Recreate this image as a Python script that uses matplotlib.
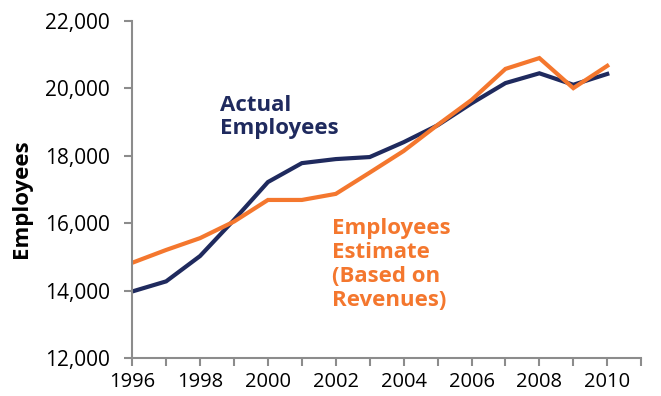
import matplotlib.pyplot as plt
from matplotlib.ticker import FuncFormatter, MultipleLocator

years = list(range(1996, 2011))
actual = [13980, 14280, 15030, 16100, 17220, 17780, 17900, 17960, 18400,
          18900, 19550, 20150, 20440, 20100, 20420]
estimate = [14830, 15210, 15560, 16050, 16690, 16690, 16870, 17500, 18140,
            18910, 19650, 20570, 20890, 20000, 20660]

NAVY = '#1f2a5e'
ORANGE = '#f4772e'
GREY = '#8c8c8c'

plt.rcParams['font.family'] = ['Open Sans', 'DejaVu Sans']

fig = plt.figure(figsize=(6.61, 3.96), dpi=100)
ax = fig.add_axes([0.200, 0.095, 0.770, 0.853])

ax.plot(years, actual, color=NAVY, lw=3, solid_joinstyle='miter')
ax.plot(years, estimate, color=ORANGE, lw=3, solid_joinstyle='miter')

ax.set_xlim(1996, 2011)
ax.set_ylim(12000, 22000)
ax.xaxis.set_major_locator(MultipleLocator(2))
ax.xaxis.set_minor_locator(MultipleLocator(1))
ax.yaxis.set_major_locator(MultipleLocator(2000))
ax.yaxis.set_major_formatter(FuncFormatter(lambda v, p: f'{int(v):,}'))

for side in ['top', 'right']:
    ax.spines[side].set_visible(False)
for side in ['left', 'bottom']:
    ax.spines[side].set_color(GREY)
    ax.spines[side].set_linewidth(1.5)

ax.tick_params(which='both', direction='out', color=GREY, width=1.5)
ax.tick_params(axis='x', which='both', length=6, pad=3.5, labelsize=14.5)
ax.tick_params(axis='y', length=6, pad=10, labelsize=15)

ax.set_ylabel('Employees', fontsize=16, fontweight='bold')
ax.yaxis.set_label_coords(-0.196, 0.472)

# series labels placed beside the lines instead of a legend
ax.text(1998.58, 19800, 'Actual\nEmployees', color=NAVY, fontsize=16,
        fontweight='bold', va='top', ha='left', linespacing=1.12)
ax.text(2001.88, 16170, 'Employees\nEstimate\n(Based on\nRevenues)', color=ORANGE,
        fontsize=16, fontweight='bold', va='top', ha='left', linespacing=1.2)

fig.savefig('out.png', dpi=100)
